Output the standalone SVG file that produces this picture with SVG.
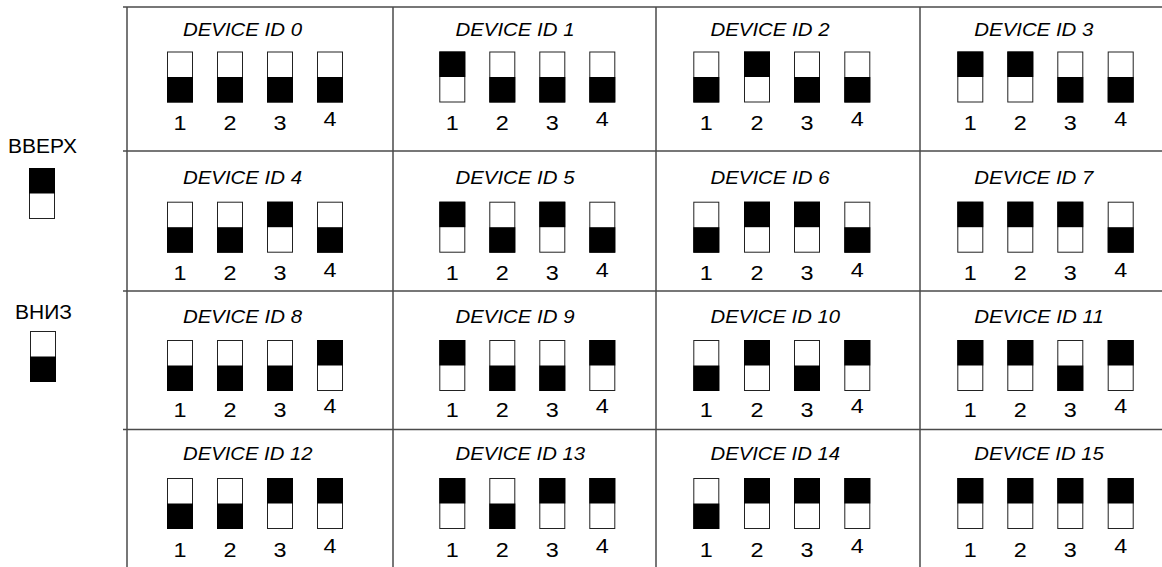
<svg xmlns="http://www.w3.org/2000/svg" width="1162" height="567" viewBox="0 0 1162 567">
<style>
.bg{fill:#fff}
.grid line{stroke:#4a4a4a;stroke-width:1.5}
.sw{fill:#fff;stroke:#222;stroke-width:1}
.on{fill:#000}
.title{font-family:"Liberation Sans",Arial,sans-serif;font-style:italic;font-size:18.5px;fill:#000}
.num{font-family:"Liberation Sans",Arial,sans-serif;font-size:20px;fill:#000;text-anchor:middle}
.leg{font-family:"Liberation Sans",Arial,sans-serif;font-size:19.5px;fill:#000}
</style>
<defs>
<g id="up"><rect class="sw" x="0.5" y="0.5" width="25" height="50"/><rect class="on" x="0" y="0" width="26" height="25.5"/></g>
<g id="dn"><rect class="sw" x="0.5" y="0.5" width="25" height="50"/><rect class="on" x="0" y="25.5" width="26" height="25.5"/></g>
</defs>
<rect class="bg" x="0" y="0" width="1162" height="567"/>
<g id="connectors" class="grid">
<line x1="123" y1="7" x2="1162" y2="7"/>
<line x1="123" y1="151" x2="1162" y2="151"/>
<line x1="123" y1="291" x2="1162" y2="291"/>
<line x1="123" y1="429.5" x2="1162" y2="429.5"/>
<line x1="127" y1="7" x2="127" y2="567"/>
<line x1="393" y1="7" x2="393" y2="567"/>
<line x1="656" y1="7" x2="656" y2="567"/>
<line x1="920" y1="7" x2="920" y2="567"/>
</g>
<g id="legend-up">
<text class="leg" x="8" y="152.7" textLength="69" lengthAdjust="spacingAndGlyphs">ВВЕРХ</text>
<use href="#up" x="29" y="168"/>
</g>
<g id="legend-down">
<text class="leg" x="15" y="319.3" textLength="57" lengthAdjust="spacingAndGlyphs">ВНИЗ</text>
<use href="#dn" x="30" y="331"/>
</g>
<g id="id0"><text class="title" x="183" y="35.5" textLength="119" lengthAdjust="spacingAndGlyphs">DEVICE ID 0</text>
<use href="#dn" x="167" y="51.5"/><use href="#dn" x="217" y="51.5"/><use href="#dn" x="267" y="51.5"/><use href="#dn" x="317" y="51.5"/>
<text class="num" x="180" y="129.5" textLength="13" lengthAdjust="spacingAndGlyphs">1</text><text class="num" x="230" y="129.5" textLength="13" lengthAdjust="spacingAndGlyphs">2</text><text class="num" x="280" y="129.5" textLength="13" lengthAdjust="spacingAndGlyphs">3</text><text class="num" x="330" y="125.5" textLength="13" lengthAdjust="spacingAndGlyphs">4</text></g>
<g id="id1"><text class="title" x="455.5" y="35.5" textLength="119" lengthAdjust="spacingAndGlyphs">DEVICE ID 1</text>
<use href="#up" x="439.3" y="51.5"/><use href="#dn" x="489.3" y="51.5"/><use href="#dn" x="539.3" y="51.5"/><use href="#dn" x="589.3" y="51.5"/>
<text class="num" x="452.3" y="129.5" textLength="13" lengthAdjust="spacingAndGlyphs">1</text><text class="num" x="502.3" y="129.5" textLength="13" lengthAdjust="spacingAndGlyphs">2</text><text class="num" x="552.3" y="129.5" textLength="13" lengthAdjust="spacingAndGlyphs">3</text><text class="num" x="602.3" y="125.5" textLength="13" lengthAdjust="spacingAndGlyphs">4</text></g>
<g id="id2"><text class="title" x="710.5" y="35.5" textLength="119" lengthAdjust="spacingAndGlyphs">DEVICE ID 2</text>
<use href="#dn" x="693.3" y="51.5"/><use href="#up" x="744" y="51.5"/><use href="#dn" x="794" y="51.5"/><use href="#dn" x="844.3" y="51.5"/>
<text class="num" x="706.3" y="129.5" textLength="13" lengthAdjust="spacingAndGlyphs">1</text><text class="num" x="757" y="129.5" textLength="13" lengthAdjust="spacingAndGlyphs">2</text><text class="num" x="807" y="129.5" textLength="13" lengthAdjust="spacingAndGlyphs">3</text><text class="num" x="857.3" y="125.5" textLength="13" lengthAdjust="spacingAndGlyphs">4</text></g>
<g id="id3"><text class="title" x="974.3" y="35.5" textLength="119" lengthAdjust="spacingAndGlyphs">DEVICE ID 3</text>
<use href="#up" x="957.3" y="51.5"/><use href="#up" x="1007.3" y="51.5"/><use href="#dn" x="1057.3" y="51.5"/><use href="#dn" x="1107.7" y="51.5"/>
<text class="num" x="970.3" y="129.5" textLength="13" lengthAdjust="spacingAndGlyphs">1</text><text class="num" x="1020.3" y="129.5" textLength="13" lengthAdjust="spacingAndGlyphs">2</text><text class="num" x="1070.3" y="129.5" textLength="13" lengthAdjust="spacingAndGlyphs">3</text><text class="num" x="1120.7" y="125.5" textLength="13" lengthAdjust="spacingAndGlyphs">4</text></g>

<g id="id4"><text class="title" x="183" y="184" textLength="119" lengthAdjust="spacingAndGlyphs">DEVICE ID 4</text>
<use href="#dn" x="167" y="201.7"/><use href="#dn" x="217" y="201.7"/><use href="#up" x="267" y="201.7"/><use href="#dn" x="317" y="201.7"/>
<text class="num" x="180" y="280" textLength="13" lengthAdjust="spacingAndGlyphs">1</text><text class="num" x="230" y="280" textLength="13" lengthAdjust="spacingAndGlyphs">2</text><text class="num" x="280" y="280" textLength="13" lengthAdjust="spacingAndGlyphs">3</text><text class="num" x="330" y="276.5" textLength="13" lengthAdjust="spacingAndGlyphs">4</text></g>
<g id="id5"><text class="title" x="455.5" y="184" textLength="119" lengthAdjust="spacingAndGlyphs">DEVICE ID 5</text>
<use href="#up" x="439.3" y="201.7"/><use href="#dn" x="489.3" y="201.7"/><use href="#up" x="539.3" y="201.7"/><use href="#dn" x="589.3" y="201.7"/>
<text class="num" x="452.3" y="280" textLength="13" lengthAdjust="spacingAndGlyphs">1</text><text class="num" x="502.3" y="280" textLength="13" lengthAdjust="spacingAndGlyphs">2</text><text class="num" x="552.3" y="280" textLength="13" lengthAdjust="spacingAndGlyphs">3</text><text class="num" x="602.3" y="276.5" textLength="13" lengthAdjust="spacingAndGlyphs">4</text></g>
<g id="id6"><text class="title" x="710.5" y="184" textLength="119" lengthAdjust="spacingAndGlyphs">DEVICE ID 6</text>
<use href="#dn" x="693.3" y="201.7"/><use href="#up" x="744" y="201.7"/><use href="#up" x="794" y="201.7"/><use href="#dn" x="844.3" y="201.7"/>
<text class="num" x="706.3" y="280" textLength="13" lengthAdjust="spacingAndGlyphs">1</text><text class="num" x="757" y="280" textLength="13" lengthAdjust="spacingAndGlyphs">2</text><text class="num" x="807" y="280" textLength="13" lengthAdjust="spacingAndGlyphs">3</text><text class="num" x="857.3" y="276.5" textLength="13" lengthAdjust="spacingAndGlyphs">4</text></g>
<g id="id7"><text class="title" x="974.3" y="184" textLength="119" lengthAdjust="spacingAndGlyphs">DEVICE ID 7</text>
<use href="#up" x="957.3" y="201.7"/><use href="#up" x="1007.3" y="201.7"/><use href="#up" x="1057.3" y="201.7"/><use href="#dn" x="1107.7" y="201.7"/>
<text class="num" x="970.3" y="280" textLength="13" lengthAdjust="spacingAndGlyphs">1</text><text class="num" x="1020.3" y="280" textLength="13" lengthAdjust="spacingAndGlyphs">2</text><text class="num" x="1070.3" y="280" textLength="13" lengthAdjust="spacingAndGlyphs">3</text><text class="num" x="1120.7" y="276.5" textLength="13" lengthAdjust="spacingAndGlyphs">4</text></g>

<g id="id8"><text class="title" x="183" y="322.5" textLength="119" lengthAdjust="spacingAndGlyphs">DEVICE ID 8</text>
<use href="#dn" x="167" y="340"/><use href="#dn" x="217" y="340"/><use href="#dn" x="267" y="340"/><use href="#up" x="317" y="340"/>
<text class="num" x="180" y="416.7" textLength="13" lengthAdjust="spacingAndGlyphs">1</text><text class="num" x="230" y="416.7" textLength="13" lengthAdjust="spacingAndGlyphs">2</text><text class="num" x="280" y="416.7" textLength="13" lengthAdjust="spacingAndGlyphs">3</text><text class="num" x="330" y="413.3" textLength="13" lengthAdjust="spacingAndGlyphs">4</text></g>
<g id="id9"><text class="title" x="455.5" y="322.5" textLength="119" lengthAdjust="spacingAndGlyphs">DEVICE ID 9</text>
<use href="#up" x="439.3" y="340"/><use href="#dn" x="489.3" y="340"/><use href="#dn" x="539.3" y="340"/><use href="#up" x="589.3" y="340"/>
<text class="num" x="452.3" y="416.7" textLength="13" lengthAdjust="spacingAndGlyphs">1</text><text class="num" x="502.3" y="416.7" textLength="13" lengthAdjust="spacingAndGlyphs">2</text><text class="num" x="552.3" y="416.7" textLength="13" lengthAdjust="spacingAndGlyphs">3</text><text class="num" x="602.3" y="413.3" textLength="13" lengthAdjust="spacingAndGlyphs">4</text></g>
<g id="id10"><text class="title" x="710.5" y="322.5" textLength="129.5" lengthAdjust="spacingAndGlyphs">DEVICE ID 10</text>
<use href="#dn" x="693.3" y="340"/><use href="#up" x="744" y="340"/><use href="#dn" x="794" y="340"/><use href="#up" x="844.3" y="340"/>
<text class="num" x="706.3" y="416.7" textLength="13" lengthAdjust="spacingAndGlyphs">1</text><text class="num" x="757" y="416.7" textLength="13" lengthAdjust="spacingAndGlyphs">2</text><text class="num" x="807" y="416.7" textLength="13" lengthAdjust="spacingAndGlyphs">3</text><text class="num" x="857.3" y="413.3" textLength="13" lengthAdjust="spacingAndGlyphs">4</text></g>
<g id="id11"><text class="title" x="974.3" y="322.5" textLength="129.5" lengthAdjust="spacingAndGlyphs">DEVICE ID 11</text>
<use href="#up" x="957.3" y="340"/><use href="#up" x="1007.3" y="340"/><use href="#dn" x="1057.3" y="340"/><use href="#up" x="1107.7" y="340"/>
<text class="num" x="970.3" y="416.7" textLength="13" lengthAdjust="spacingAndGlyphs">1</text><text class="num" x="1020.3" y="416.7" textLength="13" lengthAdjust="spacingAndGlyphs">2</text><text class="num" x="1070.3" y="416.7" textLength="13" lengthAdjust="spacingAndGlyphs">3</text><text class="num" x="1120.7" y="413.3" textLength="13" lengthAdjust="spacingAndGlyphs">4</text></g>

<g id="id12"><text class="title" x="183" y="460.3" textLength="129.5" lengthAdjust="spacingAndGlyphs">DEVICE ID 12</text>
<use href="#dn" x="167" y="478"/><use href="#dn" x="217" y="478"/><use href="#up" x="267" y="478"/><use href="#up" x="317" y="478"/>
<text class="num" x="180" y="556.7" textLength="13" lengthAdjust="spacingAndGlyphs">1</text><text class="num" x="230" y="556.7" textLength="13" lengthAdjust="spacingAndGlyphs">2</text><text class="num" x="280" y="556.7" textLength="13" lengthAdjust="spacingAndGlyphs">3</text><text class="num" x="330" y="552.5" textLength="13" lengthAdjust="spacingAndGlyphs">4</text></g>
<g id="id13"><text class="title" x="455.5" y="460.3" textLength="129.5" lengthAdjust="spacingAndGlyphs">DEVICE ID 13</text>
<use href="#up" x="439.3" y="478"/><use href="#dn" x="489.3" y="478"/><use href="#up" x="539.3" y="478"/><use href="#up" x="589.3" y="478"/>
<text class="num" x="452.3" y="556.7" textLength="13" lengthAdjust="spacingAndGlyphs">1</text><text class="num" x="502.3" y="556.7" textLength="13" lengthAdjust="spacingAndGlyphs">2</text><text class="num" x="552.3" y="556.7" textLength="13" lengthAdjust="spacingAndGlyphs">3</text><text class="num" x="602.3" y="552.5" textLength="13" lengthAdjust="spacingAndGlyphs">4</text></g>
<g id="id14"><text class="title" x="710.5" y="460.3" textLength="129.5" lengthAdjust="spacingAndGlyphs">DEVICE ID 14</text>
<use href="#dn" x="693.3" y="478"/><use href="#up" x="744" y="478"/><use href="#up" x="794" y="478"/><use href="#up" x="844.3" y="478"/>
<text class="num" x="706.3" y="556.7" textLength="13" lengthAdjust="spacingAndGlyphs">1</text><text class="num" x="757" y="556.7" textLength="13" lengthAdjust="spacingAndGlyphs">2</text><text class="num" x="807" y="556.7" textLength="13" lengthAdjust="spacingAndGlyphs">3</text><text class="num" x="857.3" y="552.5" textLength="13" lengthAdjust="spacingAndGlyphs">4</text></g>
<g id="id15"><text class="title" x="974.3" y="460.3" textLength="129.5" lengthAdjust="spacingAndGlyphs">DEVICE ID 15</text>
<use href="#up" x="957.3" y="478"/><use href="#up" x="1007.3" y="478"/><use href="#up" x="1057.3" y="478"/><use href="#up" x="1107.7" y="478"/>
<text class="num" x="970.3" y="556.7" textLength="13" lengthAdjust="spacingAndGlyphs">1</text><text class="num" x="1020.3" y="556.7" textLength="13" lengthAdjust="spacingAndGlyphs">2</text><text class="num" x="1070.3" y="556.7" textLength="13" lengthAdjust="spacingAndGlyphs">3</text><text class="num" x="1120.7" y="552.5" textLength="13" lengthAdjust="spacingAndGlyphs">4</text></g>
</svg>
